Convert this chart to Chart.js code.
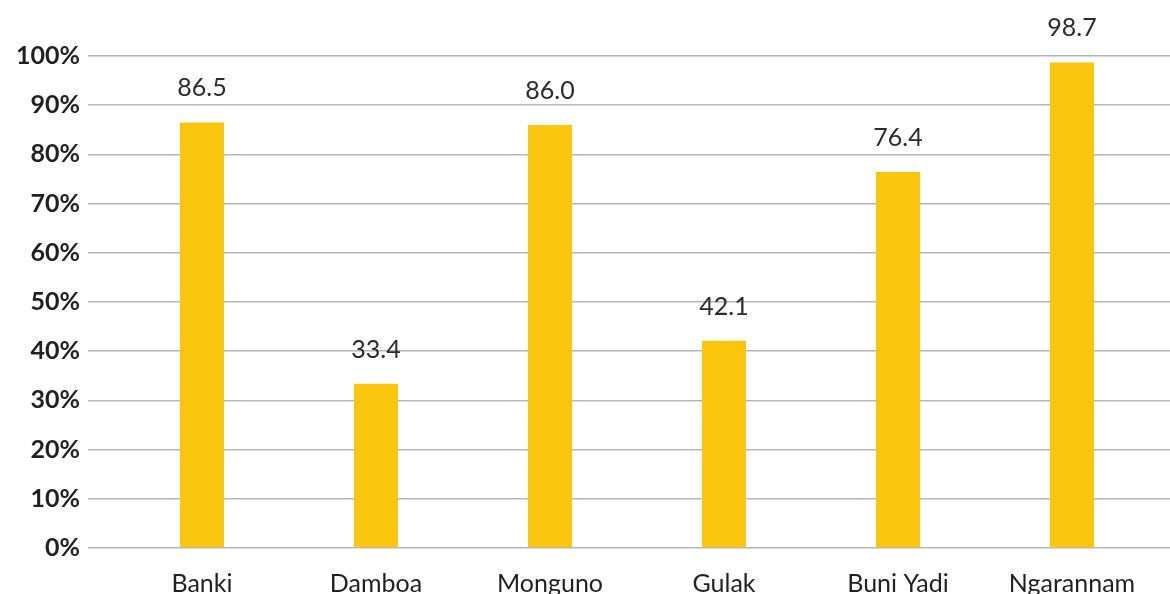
<!DOCTYPE html>
<html>
<head>
<meta charset="utf-8">
<script src="https://cdn.jsdelivr.net/npm/chart.js@4.4.0/dist/chart.umd.min.js"></script>
<style>
html,body{margin:0;padding:0;background:#fff;overflow:hidden;}
#wrap{width:1170px;height:614px;position:relative;}
</style>
</head>
<body>
<div id="wrap"><canvas id="c"></canvas></div>
<script>
const categories = ["Banki", "Damboa", "Monguno", "Gulak", "Buni Yadi", "Ngarannam"];
const values = [86.5, 33.4, 86.0, 42.1, 76.4, 98.7];
const yMin = 0, yMax = 100, yStep = 10;

const barColor = "#FCC50D";
const gridColor = "#b5b5b5";
const textColor = "#231f20";

const valueLabels = {
  id: "valueLabels",
  afterDatasetsDraw(chart) {
    const ctx = chart.ctx;
    const meta = chart.getDatasetMeta(0);
    ctx.save();
    ctx.font = "400 25px Lato";
    ctx.fillStyle = "#2b2b2b";
    ctx.textAlign = "center";
    ctx.textBaseline = "middle";
    meta.data.forEach((bar, i) => {
      ctx.fillText(values[i].toFixed(1), bar.x, bar.y - 34);
    });
    ctx.restore();
  }
};

new Chart(document.getElementById("c"), {
  type: "bar",
  data: {
    labels: categories,
    datasets: [{
      data: values,
      backgroundColor: barColor,
      borderWidth: 0,
      categoryPercentage: 0.253,
      barPercentage: 1.0
    }]
  },
  options: {
    responsive: true,
    maintainAspectRatio: false,
    animation: false,
    devicePixelRatio: 1,
    layout: { padding: { top: 56, left: 0, right: 0, bottom: 0 } },
    plugins: { legend: { display: false }, tooltip: { enabled: false } },
    scales: {
      x: {
        grid: { display: false },
        border: { display: false },
        ticks: {
          color: textColor,
          font: { family: "Lato", size: 25, weight: "400" },
          padding: 13,
          maxRotation: 0,
          autoSkip: false
        },
        afterFit(s) { s.height = 66; }
      },
      y: {
        min: yMin, max: yMax,
        border: { display: false },
        grid: { color: gridColor, lineWidth: 1.5, drawTicks: true, tickLength: 27 },
        ticks: {
          stepSize: yStep,
          color: textColor,
          padding: 8,
          font: { family: "Lato", size: 25, weight: "700" },
          callback: v => v + "%"
        },
        afterFit(s) { s.width = 115; }
      },
      y2: {
        position: "right",
        min: yMin, max: yMax,
        border: { display: false },
        grid: { color: gridColor, lineWidth: 1.5, drawOnChartArea: false, drawTicks: true, tickLength: 11 },
        ticks: { stepSize: yStep, display: false },
        afterFit(s) { s.width = 11; }
      }
    }
  },
  plugins: [valueLabels]
});
</script>
</body>
</html>
